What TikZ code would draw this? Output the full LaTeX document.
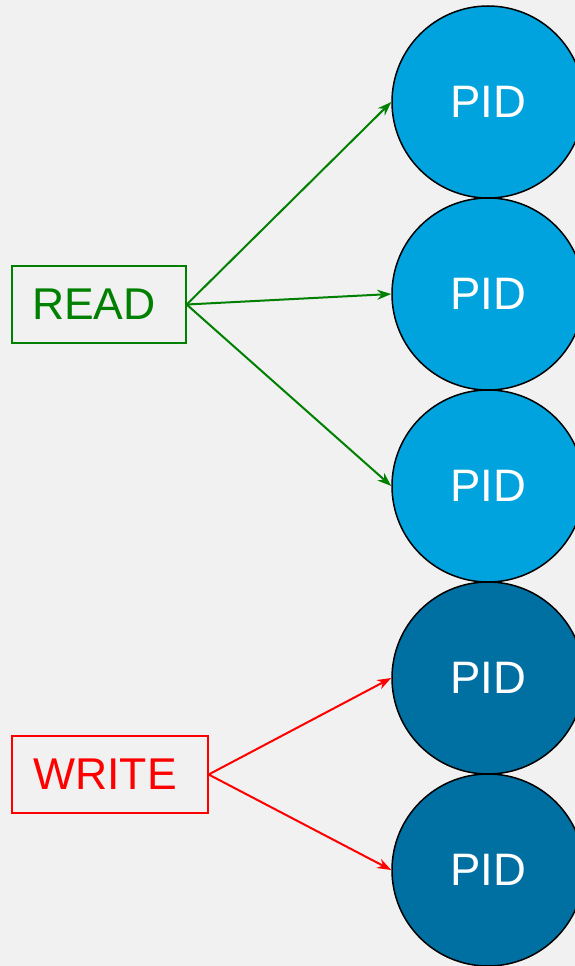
\documentclass[tikz,border=0pt]{standalone}
\usepackage{fontspec}
\setmainfont{Liberation Sans}
\usetikzlibrary{arrows.meta}
\definecolor{bgGray}{RGB}{241,241,241}
\definecolor{pidLight}{RGB}{0,163,221}
\definecolor{pidDark}{RGB}{0,111,161}
\definecolor{readGreen}{RGB}{0,128,0}
\definecolor{writeRed}{RGB}{255,0,0}
\tikzset{
	pid/.style={circle, draw=black, line width=1.5pt, minimum size=192pt, inner sep=0pt,
		text=white, font=\fontsize{45.5}{45.5}\selectfont},
	opbox/.style={draw, line width=1.3pt, minimum height=77pt, inner sep=0pt,
		font=\fontsize{44.5}{44.5}\selectfont},
	link/.style={line width=2pt, -{Stealth[length=14pt,width=10pt,inset=4.5pt]}}
}

\begin{document}
\begin{tikzpicture}[x=1pt, y=-1pt]
			%%%%% START %%%%%
			\fill[bgGray] (0, 0) rectangle (575, 966);
			\useasboundingbox (0, 0) rectangle (575, 966);
			
			\node[pid, fill=pidLight] (p1) at (488, 102) {PID};
			\node[pid, fill=pidLight] (p2) at (488, 294) {PID};
			\node[pid, fill=pidLight] (p3) at (488, 486) {PID};
			\node[pid, fill=pidDark] (p4) at (488, 678) {PID};
			\node[pid, fill=pidDark] (p5) at (488, 870) {PID};
			
			% text sits a little left of the box centre
			\node[opbox, readGreen, minimum width=174pt] (read) at (99, 304.5) {READ\kern10pt};
			\node[opbox, writeRed, minimum width=196pt] (write) at (110, 774.5) {WRITE\kern10pt};
			
			\foreach \p in {p1, p2, p3}
				\draw[link, readGreen] (read.east) -- (\p.west);
			\foreach \p in {p4, p5}
				\draw[link, writeRed] (write.east) -- (\p.west);
			%%%%% END %%%%%
\end{tikzpicture}
\end{document}
